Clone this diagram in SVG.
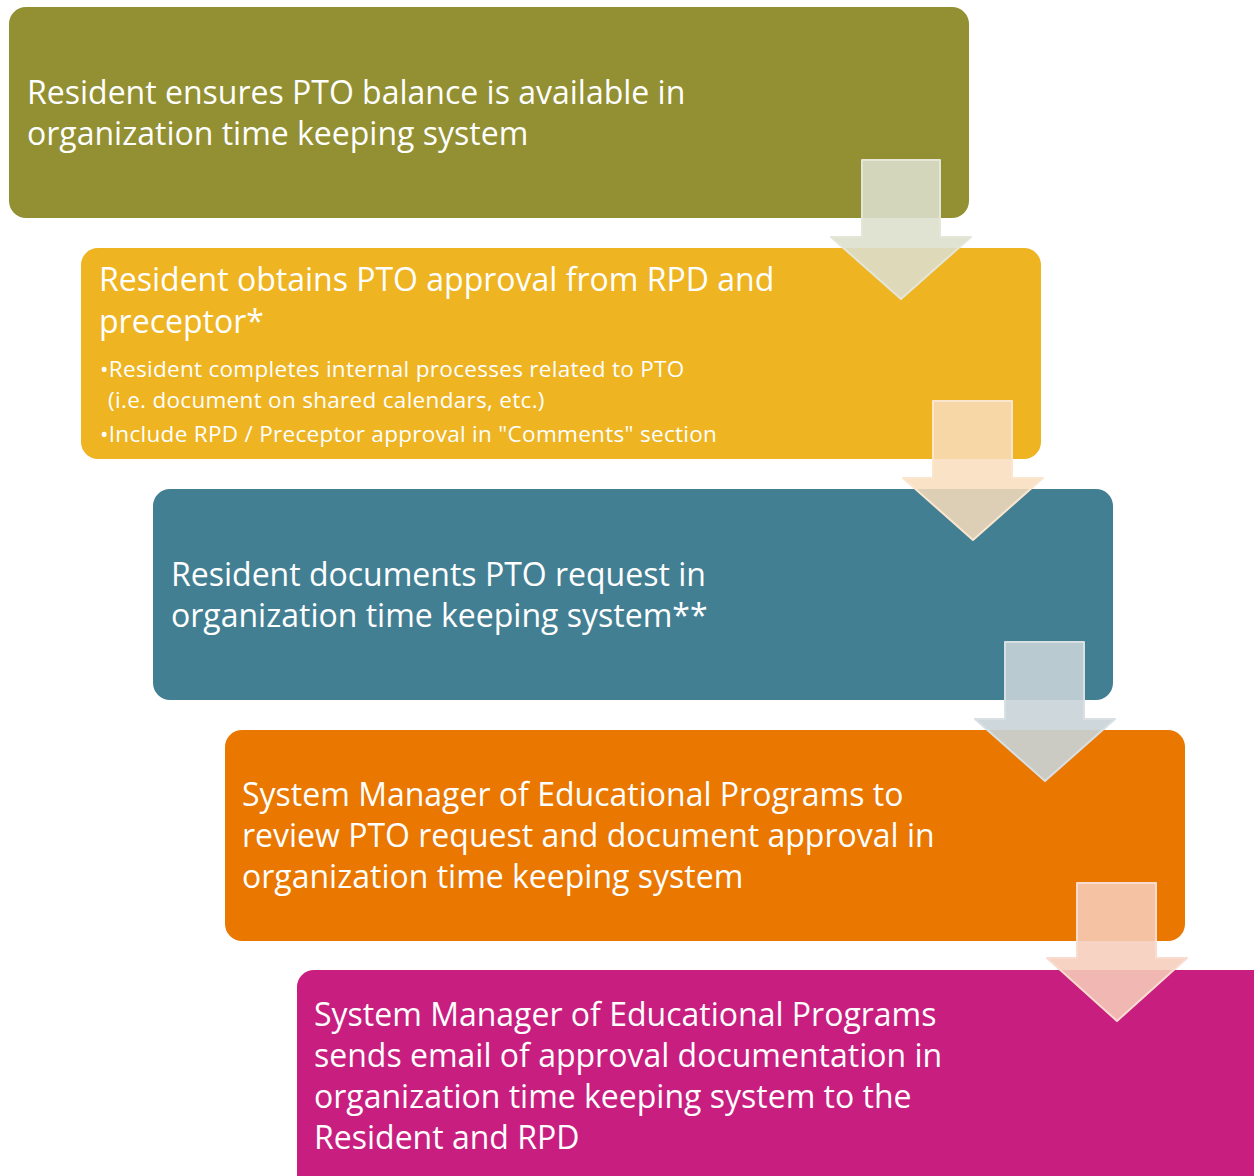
<svg xmlns="http://www.w3.org/2000/svg" width="1254" height="1176" viewBox="0 0 1254 1176">
<style>
.t{font-family:"Open Sans","Noto Sans",sans-serif;fill:#fff;font-size:32px}
.s{font-family:"Open Sans","Noto Sans",sans-serif;fill:#fff;font-size:22.5px;letter-spacing:0.3px}
.a{stroke-width:2;stroke-linejoin:round}
</style>
<rect width="1254" height="1176" fill="#fff"/>
<g id="node1"><rect x="9" y="7" width="960" height="211" rx="17" fill="#929032"/>
<text class="t" x="27" y="104">Resident ensures PTO balance is available in</text>
<text class="t" x="27" y="145">organization time keeping system</text></g>
<g id="node2"><rect x="81" y="248" width="960" height="211" rx="17" fill="#eeb422"/>
<text class="t" x="99" y="291">Resident obtains PTO approval from RPD and</text>
<text class="t" x="99" y="333">preceptor*</text>
<text class="s" x="100" y="377">•Resident completes internal processes related to PTO</text>
<text class="s" x="108" y="408">(i.e. document on shared calendars, etc.)</text>
<text class="s" x="100" y="442">•Include RPD / Preceptor approval in "Comments" section</text></g>
<g id="node3"><rect x="153" y="489" width="960" height="211" rx="17" fill="#437f93"/>
<text class="t" x="171" y="586">Resident documents PTO request in</text>
<text class="t" x="171" y="627">organization time keeping system**</text></g>
<g id="node4"><rect x="225" y="730" width="960" height="211" rx="17" fill="#e97700"/>
<text class="t" x="242" y="806">System Manager of Educational Programs to</text>
<text class="t" x="242" y="847">review PTO request and document approval in</text>
<text class="t" x="242" y="888">organization time keeping system</text></g>
<g id="node5"><rect x="297" y="970" width="980" height="230" rx="17" fill="#c81e7f"/>
<text class="t" x="314" y="1026">System Manager of Educational Programs</text>
<text class="t" x="314" y="1067">sends email of approval documentation in</text>
<text class="t" x="314" y="1108">organization time keeping system to the</text>
<text class="t" x="314" y="1149">Resident and RPD</text></g>
<g id="connectors">
<path class="a" d="M862,160 H940 V237 H971 L901,299 L831,237 H862 Z" fill="#dcdecc" fill-opacity="0.89" stroke="#e4e6d8"/>
<path class="a" d="M933,401 H1012 V478 H1043 L973,540 L903,478 H933 Z" fill="#f8ddbc" fill-opacity="0.85" stroke="#fae6cf"/>
<path class="a" d="M1005,642 H1084 V719 H1115 L1045,781 L975,719 H1005 Z" fill="#c8d3d8" fill-opacity="0.9" stroke="#d8e0e4"/>
<path class="a" d="M1077,883 H1156 V958 H1187 L1117,1021 L1047,958 H1077 Z" fill="#f6cdbb" fill-opacity="0.88" stroke="#f9dccf"/>
</g>
</svg>
